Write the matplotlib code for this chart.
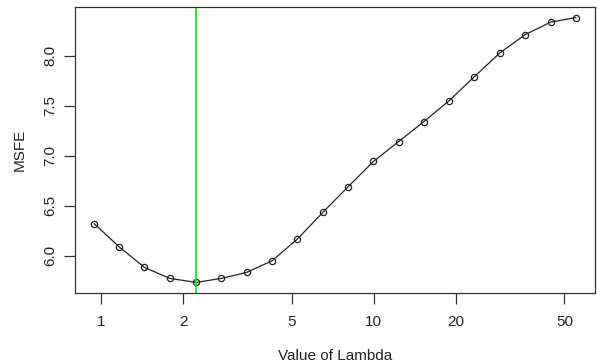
import numpy as np
import matplotlib.pyplot as plt

plt.rcParams['font.family'] = ['Liberation Sans', 'DejaVu Sans']

# values
lam = [0.945, 1.168, 1.443, 1.787, 2.234, 2.762, 3.42, 4.24, 5.25, 6.50,
       8.05, 9.97, 12.34, 15.28, 18.93, 23.4, 29.0, 35.9, 44.5, 55.0]
msfe = [6.32, 6.087, 5.883, 5.773, 5.733, 5.773, 5.833, 5.95, 6.167, 6.433,
        6.69, 6.943, 7.143, 7.343, 7.553, 7.793, 8.03, 8.213, 8.337, 8.383]
best_lam = 2.234

xticks = [1, 2, 5, 10, 20, 50]
yticks = [6.0, 6.5, 7.0, 7.5, 8.0]

fig = plt.figure(figsize=(5.97, 3.63), dpi=100)
ax = fig.add_axes([75/597, 1 - 293/363, 520/597, 286/363])

ax.plot(lam, msfe, color='#222222', lw=0.9, marker='o', ms=4.5,
        mfc='none', mec='#222222', mew=0.9)
ax.axvline(best_lam, color='#00ee00', lw=1.2)

ax.set_xscale('log')
# R style 4% padding
lx = np.log10([min(lam), max(lam)])
dx = (lx[1] - lx[0]) * 0.04
ax.set_xlim(10**(lx[0] - dx), 10**(lx[1] + dx))
dy = (max(msfe) - min(msfe)) * 0.04
ax.set_ylim(min(msfe) - dy, max(msfe) + dy)

ax.set_xticks(xticks)
ax.set_xticklabels([str(t) for t in xticks])
ax.xaxis.set_minor_locator(plt.NullLocator())
ax.set_yticks(yticks)
ax.set_yticklabels([f'{t:.1f}' for t in yticks], rotation=90, va='center')

ax.tick_params(length=8, width=0.9, color='#333333', labelsize=11,
               labelcolor='#222222')
ax.tick_params(axis='x', pad=8)
ax.tick_params(axis='y', pad=5)
for s in ax.spines.values():
    s.set_color('#333333')
    s.set_linewidth(0.9)

ax.set_xlabel('Value of Lambda', fontsize=11, color='#222222', labelpad=14)
ax.set_ylabel('MSFE', fontsize=11, color='#222222', labelpad=12)

fig.savefig('out.png', dpi=100)
